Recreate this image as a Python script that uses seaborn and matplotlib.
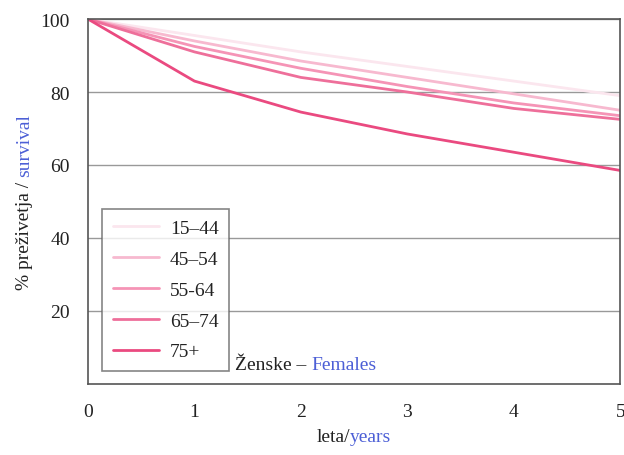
import pandas as pd
import numpy as np
import matplotlib
matplotlib.use('Agg')
import matplotlib.pyplot as plt
import seaborn as sns

years = [0, 1, 2, 3, 4, 5]
groups = ["15–44", "45–54", "55-64", "65–74", "75+"]
surv_15_44 = [100, 95.5, 91, 87, 83, 79]
surv_45_54 = [100, 94, 88.5, 84, 79.5, 75]
surv_55_64 = [100, 92.5, 86.5, 81.5, 77, 73.5]
surv_65_74 = [100, 91, 84, 80, 75.5, 72.5]
surv_75 = [100, 83, 74.5, 68.5, 63.5, 58.5]
colors = ["#fbe6ee", "#f7b9cf", "#f594b6", "#ee6f9a", "#ea4a80"]

df = pd.DataFrame({
    "year": years * 5,
    "surv": surv_15_44 + surv_45_54 + surv_55_64 + surv_65_74 + surv_75,
    "group": [g for g in groups for _ in years],
})

sns.set_style("white")
plt.rcParams["font.family"] = ["Liberation Serif", "DejaVu Serif"]
BLUE = "#4c5fd6"

fig = plt.figure(figsize=(6.24, 4.56), dpi=100)
ax = fig.add_axes([0.141, 0.156, 0.853, 0.80])

sns.lineplot(data=df, x="year", y="surv", hue="group", hue_order=groups,
             palette=dict(zip(groups, colors)), linewidth=2, ax=ax)

ax.set_xlim(0, 5)
ax.set_ylim(0, 100)
ax.set_xticks(years)
ax.set_yticks([20, 40, 60, 80, 100])
ax.tick_params(labelsize=14, colors="#222222", length=5, width=0.8, direction="in")
ax.tick_params(axis="x", pad=14)
ax.tick_params(axis="y", pad=8, direction="out")
ax.yaxis.grid(True, color="#999999", linewidth=1)
for s in ax.spines.values():
    s.set_color("#555555")
    s.set_linewidth(1.2)
ax.set_xlabel("")
ax.set_ylabel("")

leg = ax.legend(loc="lower left", bbox_to_anchor=(0.026, 0.035), fontsize=14,
                frameon=True, fancybox=False, edgecolor="#666666",
                handlelength=2.4, handletextpad=0.55, borderpad=0.55,
                labelspacing=0.68, borderaxespad=0)
leg.get_frame().set_linewidth(1.2)
for t in leg.get_texts():
    t.set_color("#222222")

fig.canvas.draw()
r = fig.canvas.get_renderer()

# x label
t = fig.text(0.5, 0.03, "leta/", fontsize=14, color="#222222", ha="left", va="baseline")
w1 = t.get_window_extent(r).width
t2 = fig.text(0.5, 0.03, "years", fontsize=14, color=BLUE, ha="left", va="baseline")
w2 = t2.get_window_extent(r).width
x0 = (ax.get_position().x0 + ax.get_position().x1) / 2 - (w1 + w2) / 2 / fig.bbox.width
t.set_x(x0)
t2.set_x(x0 + w1 / fig.bbox.width)

# y label (rotated)
ty = fig.text(0.04, 0.5, "% preživetja / ", fontsize=14, color="#222222",
              rotation=90, ha="center", va="bottom")
h1 = ty.get_window_extent(r).height
ty2 = fig.text(0.04, 0.5, "survival", fontsize=14, color=BLUE,
               rotation=90, ha="center", va="bottom")
h2 = ty2.get_window_extent(r).height
y0 = (ax.get_position().y0 + ax.get_position().y1) / 2 - (h1 + h2) / 2 / fig.bbox.height
ty.set_y(y0)
ty2.set_y(y0 + h1 / fig.bbox.height)

# panel title
tt = ax.text(0.276, 0.04, "Ženske – ", fontsize=14, color="#222222",
             transform=ax.transAxes, ha="left", va="baseline")
wt = tt.get_window_extent(r).width
ax.text(0.276 + wt / ax.bbox.width, 0.04, "Females", fontsize=14, color=BLUE,
        transform=ax.transAxes, ha="left", va="baseline")

fig.savefig("out.png", dpi=100, facecolor="white")
